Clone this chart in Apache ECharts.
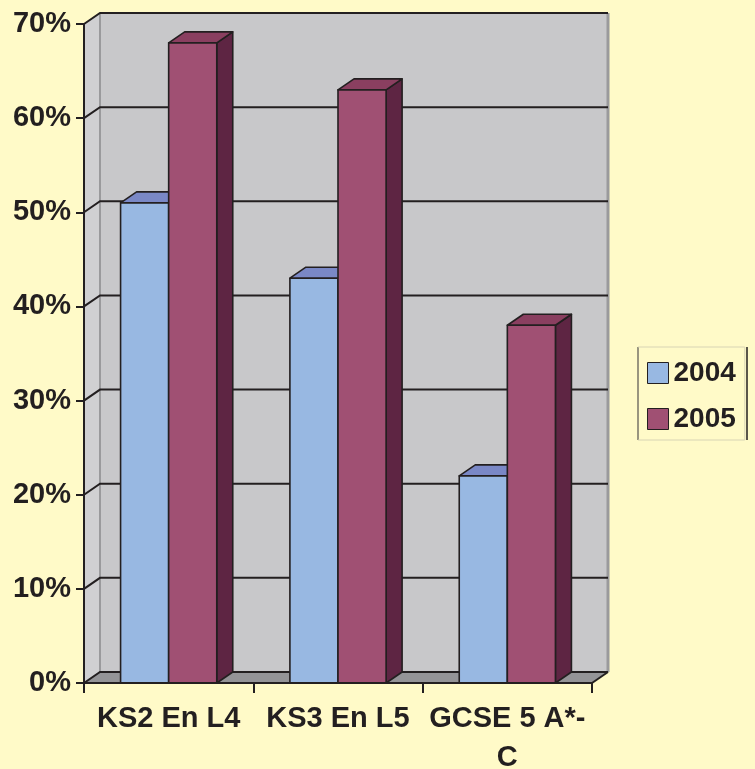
<!DOCTYPE html>
<html>
<head>
<meta charset="utf-8">
<script src="https://cdn.jsdelivr.net/npm/echarts@6/dist/echarts.min.js"></script>
<style>
  html, body { margin: 0; padding: 0; background: #FFFAC8; }
  #chart { width: 755px; height: 769px; }
</style>
</head>
<body>
<div id="chart"></div>
<script>
const categories = ['KS2 En L4', 'KS3 En L5', 'GCSE 5 A*-\nC'];
const years = ['2004', '2005'];
const values2004 = [51, 43, 22];
const values2005 = [68, 63, 38];
const yTicks = [0, 10, 20, 30, 40, 50, 60, 70];

// depth offset of the fake 3d box
const DX = 16, DY = -11;
const INK = '#231F20';
const FONT = '"Liberation Sans", Arial, sans-serif';

const colors2004 = { front: '#98B8E2', top: '#7A88C6', side: '#5F6E9E' };
const colors2005 = { front: '#A05073', top: '#8A3F60', side: '#5E2543' };

const chart = echarts.init(document.getElementById('chart'));

function renderWalls(params, api) {
  const band = api.size([1, 0])[0];
  const x0 = api.coord([0, 0])[0] - band / 2;
  const x1 = api.coord([categories.length - 1, 0])[0] + band / 2;
  const yBot = api.coord([0, yTicks[0]])[1];
  const yTop = api.coord([0, yTicks[yTicks.length - 1]])[1];
  const children = [
    { type: 'rect', shape: { x: x0 + DX, y: yTop + DY, width: x1 - x0, height: yBot - yTop }, style: { fill: '#C8C8CA' } },
    { type: 'polygon', shape: { points: [[x0, yTop], [x0 + DX, yTop + DY], [x0 + DX, yBot + DY], [x0, yBot]] }, style: { fill: '#D0D0D2' } },
    { type: 'polygon', shape: { points: [[x0, yBot], [x0 + DX, yBot + DY], [x1 + DX, yBot + DY], [x1, yBot]] }, style: { fill: '#949497' } },
    { type: 'line', shape: { x1: x0 + DX, y1: yTop + DY, x2: x0 + DX, y2: yBot + DY }, style: { stroke: '#9A9A9C', lineWidth: 2 } },
    { type: 'line', shape: { x1: x1 + DX, y1: yTop + DY, x2: x1 + DX, y2: yBot + DY }, style: { stroke: '#9A9A9C', lineWidth: 3 } },
    { type: 'line', shape: { x1: x1, y1: yBot, x2: x1 + DX, y2: yBot + DY }, style: { stroke: INK, lineWidth: 2 } }
  ];
  yTicks.forEach(function (v) {
    const y = api.coord([0, v])[1];
    children.push({
      type: 'polyline',
      shape: { points: [[x0, y], [x0 + DX, y + DY], [x1 + DX, y + DY]] },
      style: { stroke: INK, lineWidth: 2, fill: null }
    });
  });
  return { type: 'group', children: children };
}

function barRenderer(side, colors) {
  return function (params, api) {
    const band = api.size([1, 0])[0];
    const w = band * 0.284;
    const c = api.coord([api.value(0), api.value(1)]);
    const base = api.coord([api.value(0), 0]);
    const xl = side === 0 ? c[0] - w : c[0];
    const xr = xl + w;
    const yt = c[1], yb = base[1];
    const edge = { stroke: INK, lineWidth: 1.6, lineJoin: 'round' };
    return {
      type: 'group',
      children: [
        { type: 'polygon', shape: { points: [[xr, yt], [xr + DX, yt + DY], [xr + DX, yb + DY], [xr, yb]] }, style: Object.assign({ fill: colors.side }, edge) },
        { type: 'polygon', shape: { points: [[xl, yt], [xl + DX, yt + DY], [xr + DX, yt + DY], [xr, yt]] }, style: Object.assign({ fill: colors.top }, edge) },
        { type: 'rect', shape: { x: xl, y: yt, width: w, height: yb - yt }, style: Object.assign({ fill: colors.front }, edge) }
      ]
    };
  };
}

function pairs(vals) {
  return vals.map(function (v, i) { return [i, v]; });
}

chart.setOption({
  backgroundColor: '#FFFAC8',
  animation: false,
  grid: { left: 84, right: 163, top: 24, bottom: 86, containLabel: false, outerBoundsMode: 'none' },
  legend: {
    data: years,
    orient: 'vertical',
    left: 638,
    top: 347,
    padding: [12, 9, 7, 9],
    itemWidth: 21,
    itemHeight: 21,
    itemGap: 18,
    icon: 'rect',
    selectedMode: false,
    borderColor: '#D8D4B4',
    borderWidth: 1,
    itemStyle: { borderColor: INK, borderWidth: 1 },
    textStyle: { fontFamily: FONT, fontSize: 28, fontWeight: 'bold', color: INK, lineHeight: 28 }
  },
  graphic: [
    { type: 'line', shape: { x1: 638, y1: 347, x2: 638, y2: 440 }, style: { stroke: INK, lineWidth: 1.5 } },
    { type: 'line', shape: { x1: 747, y1: 347, x2: 747, y2: 440 }, style: { stroke: INK, lineWidth: 1.5 } }
  ],
  xAxis: {
    type: 'category',
    data: categories,
    z: 10,
    axisLine: { lineStyle: { color: INK, width: 2 } },
    axisTick: { show: true, length: 10, lineStyle: { color: INK, width: 2 } },
    axisLabel: { interval: 0, fontFamily: FONT, fontSize: 29, fontWeight: 'bold', color: INK, margin: 16, lineHeight: 39 }
  },
  yAxis: {
    type: 'value',
    min: 0,
    max: 70,
    interval: 10,
    z: 10,
    splitLine: { show: false },
    axisLine: { show: true, lineStyle: { color: INK, width: 2 } },
    axisTick: { show: true, length: 8, lineStyle: { color: INK, width: 2 } },
    axisLabel: { formatter: '{value}%', fontFamily: FONT, fontSize: 29, fontWeight: 'bold', color: INK, margin: 13 }
  },
  series: [
    {
      name: 'walls',
      type: 'custom',
      z: 1,
      silent: true,
      renderItem: renderWalls,
      data: [[0, 0]],
      encode: { x: 0, y: 1 }
    },
    {
      name: years[0],
      type: 'custom',
      z: 2,
      renderItem: barRenderer(0, colors2004),
      itemStyle: { color: colors2004.front },
      data: pairs(values2004),
      encode: { x: 0, y: 1 }
    },
    {
      name: years[1],
      type: 'custom',
      z: 2,
      renderItem: barRenderer(1, colors2005),
      itemStyle: { color: colors2005.front },
      data: pairs(values2005),
      encode: { x: 0, y: 1 }
    }
  ]
});
</script>
</body>
</html>
